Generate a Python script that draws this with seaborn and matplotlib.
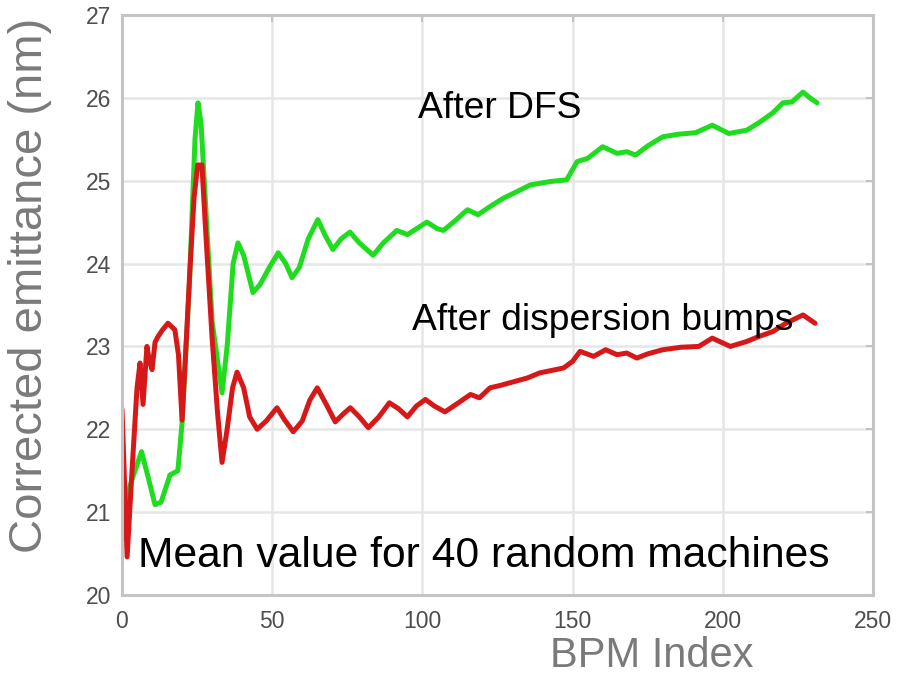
import matplotlib
matplotlib.use("Agg")
import matplotlib.pyplot as plt
import seaborn as sns
import pandas as pd

# ---- data ----
dfs_x = [1, 2.5, 4.3, 6.5, 8.5, 11, 13, 16, 18.6, 20, 22.5, 24.3, 25.3, 26.3, 28, 30,
         33.3, 35, 37, 38.6, 40.5, 43.6, 46, 49, 52, 54.5, 56.6, 59, 62, 65.2, 67.5,
         70.2, 73, 75.9, 79, 83.6, 87, 91.5, 95, 98, 101.5, 105, 107, 111, 115, 118.5,
         123, 127, 131, 136, 142.5, 148, 151.5, 155, 160, 164.8, 168, 171, 175, 180,
         185, 191, 196.5, 202, 208, 212, 216.7, 220, 223, 226.7, 229, 231.4]
dfs_y = [21.0, 21.3, 21.5, 21.73, 21.45, 21.09, 21.12, 21.45, 21.5, 22.08, 23.8, 25.5,
         25.94, 25.7, 24.6, 23.3, 22.44, 23.0, 24.0, 24.25, 24.1, 23.65, 23.75, 23.95,
         24.13, 24.0, 23.83, 23.95, 24.3, 24.53, 24.35, 24.17, 24.3, 24.38, 24.25, 24.1,
         24.25, 24.4, 24.35, 24.42, 24.5, 24.42, 24.4, 24.52, 24.65, 24.59, 24.7, 24.79,
         24.86, 24.95, 24.99, 25.01, 25.23, 25.27, 25.41, 25.33, 25.35, 25.31, 25.42,
         25.53, 25.56, 25.58, 25.67, 25.57, 25.61, 25.7, 25.82, 25.94, 25.95, 26.07,
         26.0, 25.94]

bump_x = [0, 1.7, 3.5, 5, 6, 7, 8.3, 9, 10, 11, 12, 13.5, 15.3, 17.6, 18.8, 20, 21.3,
          22.6, 24, 25.2, 26.6, 28, 30, 31.8, 33.3, 35, 36.8, 38.3, 40.5, 42.5, 45, 48,
          51.6, 54, 57, 60, 62.5, 65, 68, 71, 73.5, 76, 79, 82, 85.5, 89, 92, 95, 98,
          101, 104, 107.5, 112, 116, 119, 122.5, 126, 130, 135, 139, 143, 147, 150,
          152.5, 157, 161, 164.8, 168, 171.4, 175, 180, 186, 192, 196.5, 202.5, 208,
          212, 216.7, 221, 226.7, 230.7]
bump_y = [22.24, 20.46, 21.6, 22.5, 22.8, 22.3, 23.0, 22.85, 22.72, 23.05, 23.12, 23.2,
          23.28, 23.2, 22.9, 22.11, 23.0, 23.92, 24.8, 25.19, 25.19, 24.3, 23.1, 22.2,
          21.6, 22.0, 22.5, 22.69, 22.5, 22.15, 22.0, 22.1, 22.26, 22.12, 21.97, 22.1,
          22.35, 22.5, 22.3, 22.09, 22.18, 22.26, 22.15, 22.02, 22.15, 22.32, 22.25,
          22.15, 22.28, 22.36, 22.28, 22.21, 22.32, 22.42, 22.38, 22.5, 22.53, 22.57,
          22.62, 22.68, 22.71, 22.74, 22.82, 22.94, 22.88, 22.96, 22.9, 22.92, 22.86,
          22.91, 22.96, 22.99, 23.0, 23.1, 23.0, 23.06, 23.12, 23.18, 23.28, 23.38, 23.28]

x_ticks = [0, 50, 100, 150, 200, 250]
y_ticks = [20, 21, 22, 23, 24, 25, 26, 27]

labels = {"dfs": "After DFS", "bump": "After dispersion bumps",
          "mean": "Mean value for 40 random machines"}

sns.set_style("white")
plt.rcParams["font.family"] = ["Liberation Sans", "DejaVu Sans"]

fig = plt.figure(figsize=(8.98, 6.81), dpi=100)
ax = fig.add_axes([122 / 898, 1 - 595 / 681, (873 - 122) / 898, (595 - 15) / 681])

df_dfs = pd.DataFrame({"x": dfs_x, "y": dfs_y})
df_bump = pd.DataFrame({"x": bump_x, "y": bump_y})

line_kw = dict(lw=3.6, sort=False, estimator=None,
               solid_joinstyle="round", solid_capstyle="round")
sns.lineplot(data=df_dfs, x="x", y="y", ax=ax, color="#1fdc1f", **line_kw)
sns.lineplot(data=df_bump, x="x", y="y", ax=ax, color="#d71818", **line_kw)

ax.set_xlim(0, 250)
ax.set_ylim(20, 27)
ax.set_xticks(x_ticks)
ax.set_yticks(y_ticks)
ax.grid(True, color="#e6e6e6", lw=1.8)
ax.set_axisbelow(True)
for s in ax.spines.values():
    s.set_color("#c4c4c4")
    s.set_linewidth(2.2)
ax.tick_params(direction="in", length=5, width=1.5, color="#c4c4c4",
               top=True, right=True, labelsize=16.5, labelcolor="#4e4e4e", pad=8)
ax.tick_params(axis="x", pad=11)

lab_font = dict(family=["Liberation Sans", "DejaVu Sans"], fontweight="normal",
                color="#7a7a7a")
ax.set_xlabel("BPM Index", fontsize=30, **lab_font)
ax.xaxis.set_label_coords(0.706, -0.07)
ax.set_ylabel("Corrected emittance (nm)", fontsize=34, **lab_font)
ax.yaxis.set_label_coords(-0.093, 0.533)

ax.text(98.5, 25.76, labels["dfs"], fontsize=26.8, color="black", va="baseline")
ax.text(96.5, 23.2, labels["bump"], fontsize=26.8, color="black", va="baseline")
ax.text(5.3, 20.34, labels["mean"], fontsize=30.7, color="black", va="baseline")

fig.savefig("out.png", dpi=100, facecolor="white")
